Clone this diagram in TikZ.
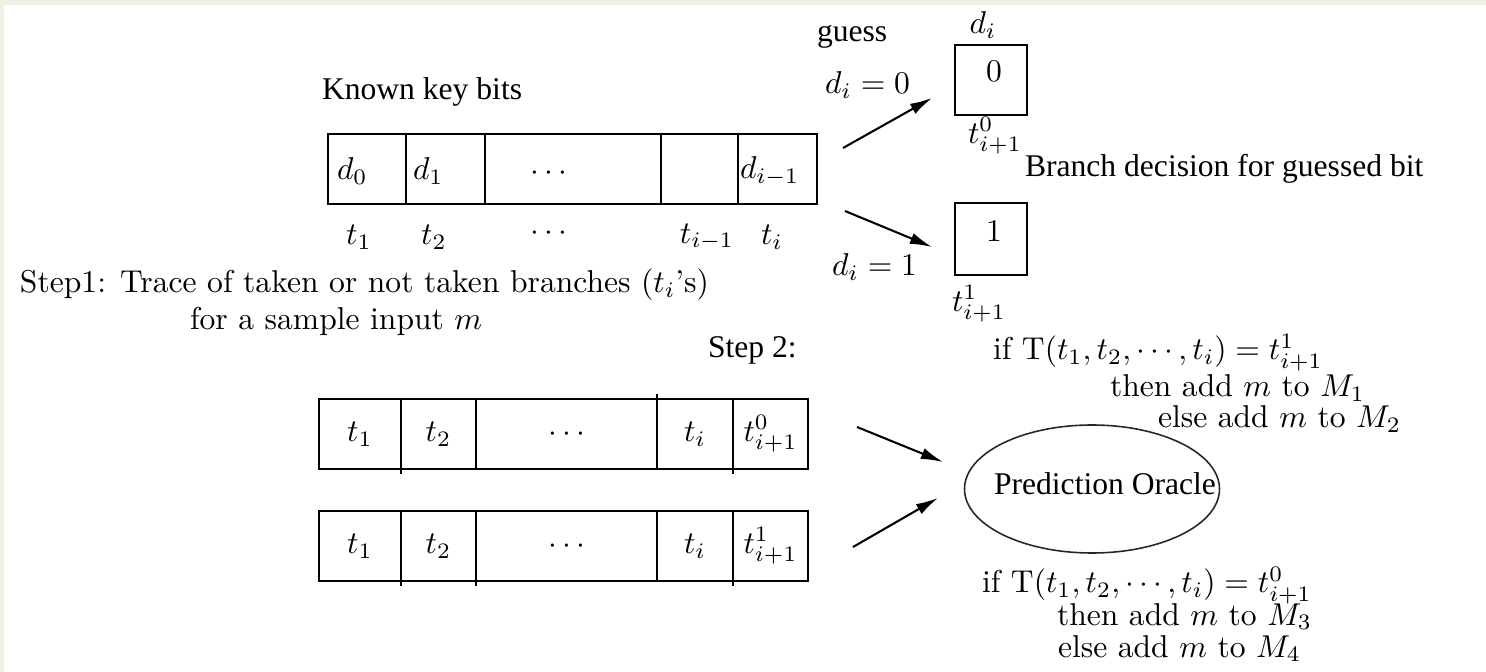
\documentclass[tikz,border=0pt]{standalone}
\usepackage{fontspec}
\newfontfamily\tms{Liberation Serif}
\usetikzlibrary{arrows.meta,shapes.geometric}
\definecolor{stripc}{RGB}{239,242,226}
\begin{document}
\begin{tikzpicture}[x=0.3165pt,y=-0.3165pt,
  cell/.style 2 args={draw, line width=0.65pt, minimum width=#1*0.3165pt,
    minimum height=#2*0.3165pt, inner sep=0pt, outer sep=0pt, anchor=north west},
  lbl/.style={inner sep=0pt, outer sep=0pt},
  tlbl/.style={font=\tms, inner sep=0pt, outer sep=0pt, anchor=base west},
  clbl/.style={inner sep=0pt, outer sep=0pt, anchor=base west},
  arr/.style={line width=0.65pt, -{Latex[length=7pt,width=3.6pt]}},
  tick/.style={line width=0.65pt}]
\useasboundingbox (0,0) rectangle (1486,672);
\fill[stripc] (0,0) rectangle (1486,5);
\fill[stripc] (0,0) rectangle (4,672);

% Known key bits row
\node[tlbl] (kkb) at (322,100) {Known key bits};
\node[cell={78}{70}] (k0) at (328,134) {};
\node[cell={79}{70}] (k1) at (406,134) {};
\node[cell={176}{70}] (k2) at (485,134) {};
\node[cell={77}{70}] (k3) at (661,134) {};
\node[cell={79}{70}] (k4) at (738,134) {};
\node[lbl, anchor=west] (kd0) at (337,171) {$d_0$};
\node[lbl, anchor=west] (kd1) at (413,171) {$d_1$};
\node[lbl] (kdd) at (549,173) {$\cdots$};
\node[lbl, anchor=west] (kdi) at (740,171) {$d_{i-1}$};

\node[lbl] (kt1) at (359,237) {$t_1$};
\node[lbl] (kt2) at (434,237) {$t_2$};
\node[lbl] (ktd) at (549,233) {$\cdots$};
\node[lbl] (kti1) at (707,237) {$t_{i-1}$};
\node[lbl] (kti) at (772,237) {$t_i$};

% guess
\node[tlbl] (guess) at (817,42) {guess};
\node[clbl] (g0) at (825,94) {$d_i=0$};
\node[clbl] (g1) at (832,276) {$d_i=1$};
\coordinate (a1s) at (843,148);
\coordinate (a1e) at (932,98);
\coordinate (a2s) at (845,211);
\coordinate (a2e) at (932,247);
\draw[arr] (a1s) -- (a1e);
\draw[arr] (a2s) -- (a2e);

\node[cell={72}{70}] (b0) at (955,45) {};
\node[cell={72}{72}] (b1) at (955,203) {};
\node[lbl] (b0t) at (994,71) {$0$};
\node[lbl] (b1t) at (994,231) {$1$};
\node[lbl] (dih) at (983,25) {$d_i$};
\node[lbl] (t0l) at (995,136) {$t^0_{i+1}$};
\node[lbl] (t1l) at (979,304) {$t^1_{i+1}$};
\node[tlbl] (branch) at (1025,177) {Branch decision for guessed bit};

% Step 1
\node[clbl] (s1a) at (20,293) {Step1:\hspace{0.45em}Trace of taken or not taken branches ($t_i$'s)};
\node[clbl] (s1b) at (190,330) {for a sample input $m$};

% Step 2
\node[tlbl] (s2) at (708,358) {Step 2:};

\node[cell={82}{70}] (r1a) at (319,399) {$t_1$};
\node[cell={75}{70}] (r1b) at (401,399) {$t_2$};
\node[cell={181}{70}] (r1c) at (476,399) {$\cdots$};
\node[cell={76}{70}] (r1d) at (657,399) {$t_i$};
\node[cell={75}{70}] (r1e) at (733,399) {$t^0_{i+1}$};

\node[cell={82}{70}] (r2a) at (319,511) {$t_1$};
\node[cell={75}{70}] (r2b) at (401,511) {$t_2$};
\node[cell={181}{70}] (r2c) at (476,511) {$\cdots$};
\node[cell={76}{70}] (r2d) at (657,511) {$t_i$};
\node[cell={75}{70}] (r2e) at (733,511) {$t^1_{i+1}$};

\draw[tick] (r1a.south east) -- ++(0,5);
\draw[tick] (r1d.north west) -- ++(0,-5);
\draw[tick] (r1e.south west) -- ++(0,5);
\draw[tick] (r2a.south east) -- ++(0,5);
\draw[tick] (r2b.south east) -- ++(0,5);
\draw[tick] (r2e.south west) -- ++(0,5);

% oracle
\node[draw=black!85, ellipse, line width=0.5pt, inner sep=0pt,
  minimum width=255*0.3165pt, minimum height=128*0.3165pt] (po) at (1092,489) {};
\node[lbl, font=\tms] (pot) at (1105,484) {Prediction Oracle};

\coordinate (a3s) at (857,427);
\coordinate (a3e) at (943,462);
\coordinate (a4s) at (853,547);
\coordinate (a4e) at (938,498);
\draw[arr] (a3s) -- (a3e);
\draw[arr] (a4s) -- (a4e);

\node[clbl] (u1) at (993,360) {if $\mathrm{T}(t_1,t_2,\cdots,t_i)=t^1_{i+1}$};
\node[clbl] (u2) at (1110,397) {then add $m$ to $M_1$};
\node[clbl] (u3) at (1158,428) {else add $m$ to $M_2$};

\node[clbl] (l1) at (982,593) {if $\mathrm{T}(t_1,t_2,\cdots,t_i)=t^0_{i+1}$};
\node[clbl] (l2) at (1057,625) {then add $m$ to $M_3$};
\node[clbl] (l3) at (1058,657) {else add $m$ to $M_4$};
\end{tikzpicture}
\end{document}
